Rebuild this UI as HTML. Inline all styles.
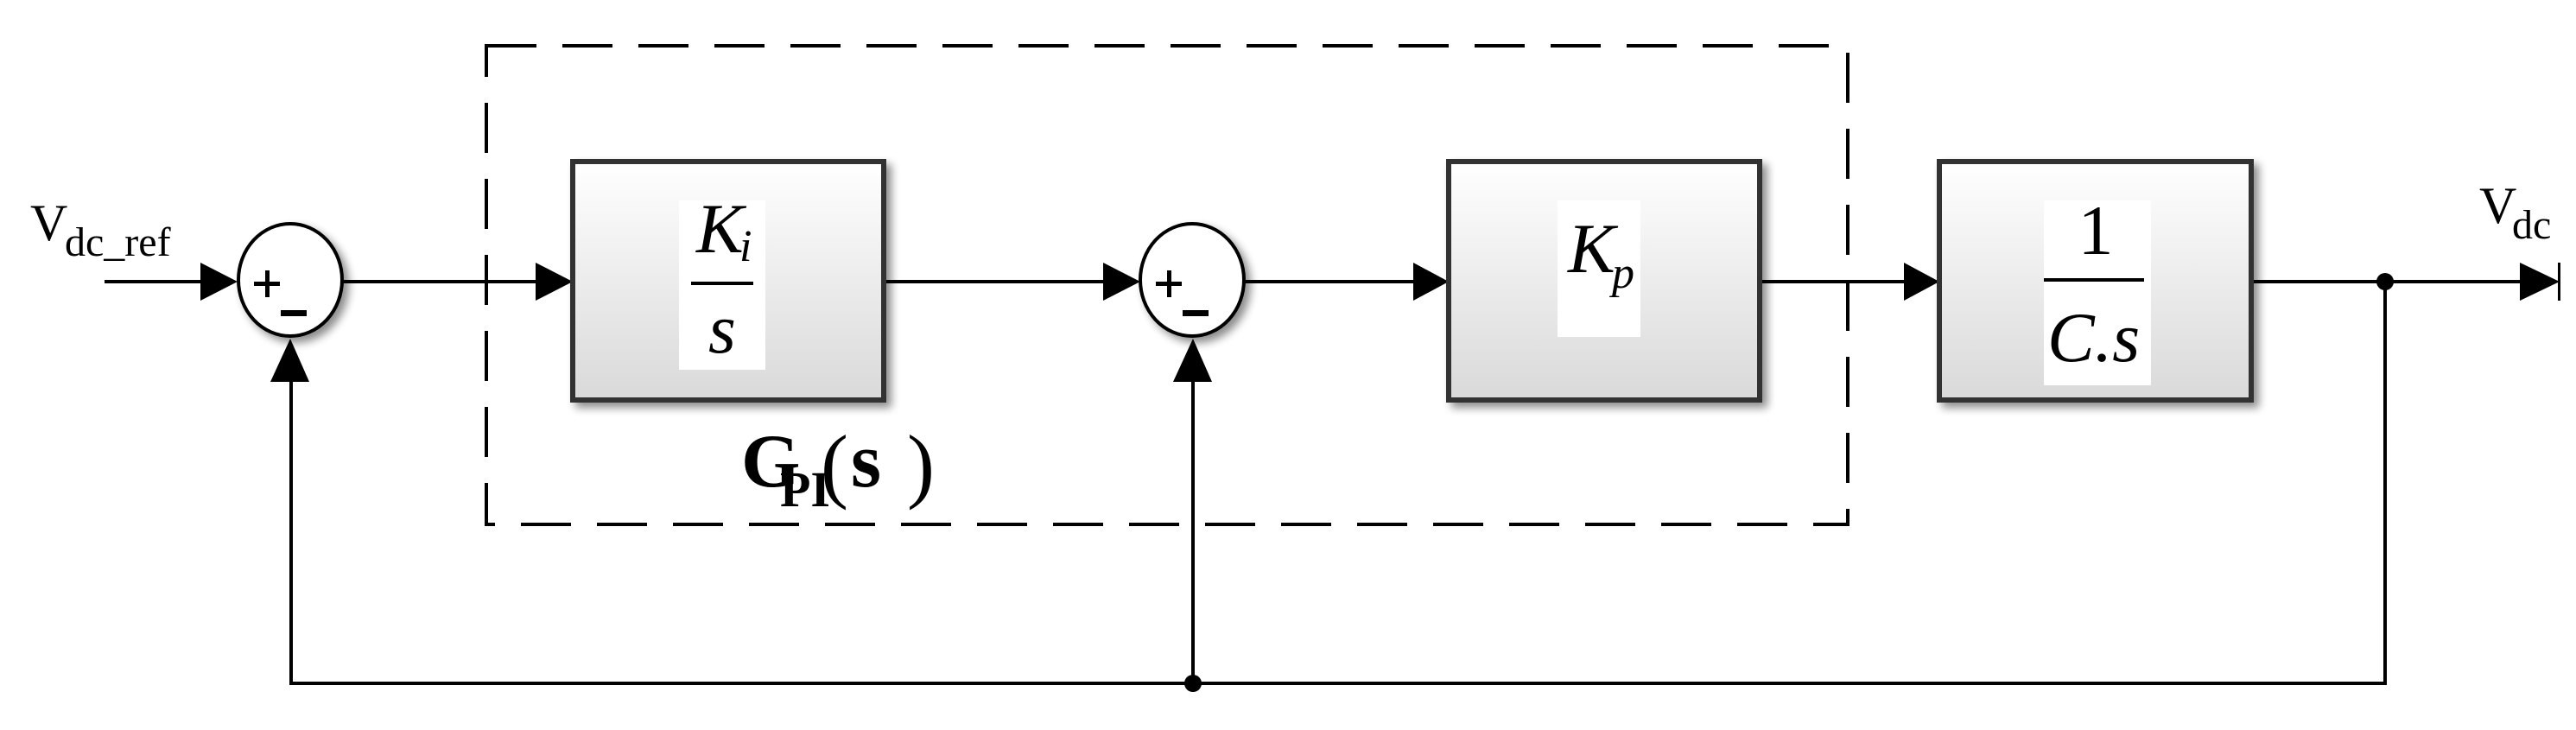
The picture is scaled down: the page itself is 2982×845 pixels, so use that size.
<!DOCTYPE html>
<html><head><meta charset="utf-8"><style>
html,body{margin:0;padding:0;background:#fff}
svg{display:block}
</style></head><body>
<svg width="2982" height="845" viewBox="0 0 2982 845" xmlns="http://www.w3.org/2000/svg">
<defs>
<linearGradient id="g" x1="0" y1="0" x2="0" y2="1">
<stop offset="0" stop-color="#ffffff"/><stop offset="1" stop-color="#d9d9d9"/>
</linearGradient>
<filter id="sh" x="-10%" y="-10%" width="130%" height="130%">
<feGaussianBlur in="SourceAlpha" stdDeviation="5"/><feOffset dx="6" dy="6"/>
<feComponentTransfer><feFuncA type="linear" slope="0.45"/></feComponentTransfer>
<feMerge><feMergeNode/><feMergeNode in="SourceGraphic"/></feMerge>
</filter>
</defs>
<g stroke="#000" stroke-width="4" fill="none">
<!-- dashed box -->
<rect x="563" y="53" width="1576" height="554" stroke-dasharray="58 30"/>
<!-- main lines -->
<line x1="121" y1="326" x2="232" y2="326"/>
<line x1="397" y1="326" x2="620" y2="326"/>
<line x1="1023" y1="326" x2="1277" y2="326"/>
<line x1="1441" y1="326" x2="1636" y2="326"/>
<line x1="2037" y1="326" x2="2204" y2="326"/>
<line x1="2606" y1="326" x2="2921" y2="326"/>
<!-- feedback -->
<polyline points="2761,326 2761,791 337,791 337,438"/>
<line x1="1381" y1="791" x2="1381" y2="438"/>
</g>
<g fill="#000">
<polygon points="232,304 232,348 275,326"/>
<polygon points="620,304 620,348 663,326"/>
<polygon points="1277,304 1277,348 1320,326"/>
<polygon points="1636,304 1636,348 1677,326"/>
<polygon points="2204,304 2204,348 2245,326"/>
<polygon points="2917,304 2917,348 2963,326"/>
<rect x="2961" y="304" width="3" height="44"/>
<polygon points="313,442 358,442 336,392"/>
<polygon points="1358,442 1403,442 1381,392"/>
<circle cx="1381" cy="791" r="10"/>
<circle cx="2761" cy="326" r="10"/>
</g>
<!-- sum circles -->
<g filter="url(#sh)" stroke="#000" stroke-width="4" fill="#fff">
<ellipse cx="336" cy="324" rx="60" ry="65"/>
<ellipse cx="1380" cy="324" rx="60" ry="65"/>
</g>
<g fill="#000">
<rect x="294" y="326" width="30" height="5"/><rect x="307" y="313" width="5" height="31"/>
<rect x="325" y="359" width="30" height="7"/>
<rect x="1338" y="326" width="30" height="5"/><rect x="1351" y="313" width="5" height="31"/>
<rect x="1369" y="359" width="30" height="7"/>
</g>
<!-- blocks -->
<g filter="url(#sh)" stroke="#333" stroke-width="6" fill="url(#g)">
<rect x="663" y="187" width="360" height="276"/>
<rect x="1677" y="187" width="360" height="276"/>
<rect x="2245" y="187" width="361" height="276"/>
</g>
<g font-family="'Liberation Serif',serif" fill="#000">
<rect x="786" y="232" width="100" height="196" fill="#fff"/>
<text x="806" y="292" font-size="82" font-style="italic">K</text>
<text x="856" y="302" font-size="52" font-style="italic">i</text>
<rect x="800" y="326" width="72" height="4"/>
<text x="836" y="408" font-size="82" font-style="italic" text-anchor="middle">s</text>

<rect x="1803" y="232" width="96" height="158" fill="#fff"/>
<text x="1815" y="315" font-size="82" font-style="italic">K</text>
<text x="1866" y="333" font-size="52" font-style="italic">p</text>

<rect x="2366" y="232" width="124" height="214" fill="#fff"/>
<rect x="2366" y="322" width="116" height="4"/>
<text x="2426" y="294" font-size="82" text-anchor="middle">1</text>
<text x="2370" y="418" font-size="82" font-style="italic">C.s</text>

<text x="35" y="278" font-size="60">V</text>
<text x="75" y="296" font-size="48">dc_ref</text>
<text x="2870" y="258" font-size="60">V</text>
<text x="2908" y="276" font-size="48">dc</text>

<text x="858" y="563" font-size="88" font-weight="bold">G</text>
<text x="903" y="586" font-size="58" font-weight="bold">PI</text>
<text x="950" y="570" font-size="96">(</text>
<text x="985" y="563" font-size="90" font-weight="bold">s</text>
<text x="1050" y="570" font-size="96">)</text>
</g>
</svg>
</body></html>
